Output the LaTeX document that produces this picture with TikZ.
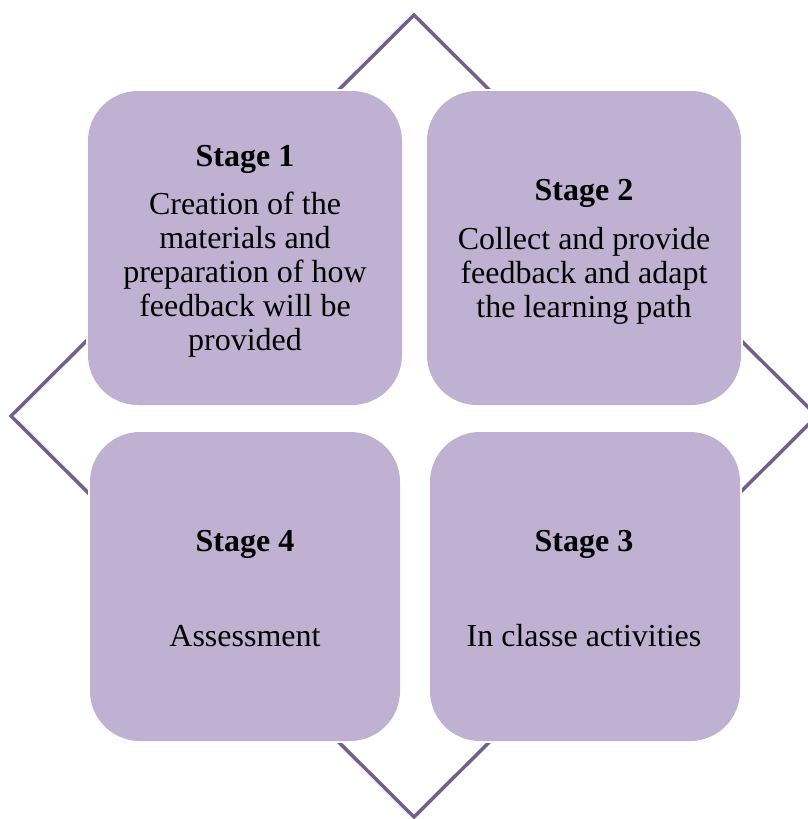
\documentclass[tikz,border=0pt]{standalone}
\usepackage{fontspec}
\setmainfont{Liberation Serif}
\usetikzlibrary{backgrounds}
\definecolor{framepurple}{RGB}{116,95,140}
\definecolor{tilefill}{RGB}{192,176,210}
\tikzset{
  tile/.style={fill=tilefill, draw=none, rounded corners=50pt, inner sep=0pt},
  ring/.style={draw=framepurple, line width=3.5pt, line join=miter},
  title/.style={font=\fontsize{32}{34}\selectfont\bfseries, anchor=base, inner sep=0pt},
  body/.style={font=\fontsize{32}{34}\selectfont, anchor=base, inner sep=0pt},
}
\begin{document}
\begin{tikzpicture}[x=1pt,y=-1pt]
  \useasboundingbox (0,0) rectangle (808,819);
  \clip (0,0) rectangle (808,819);

  % the four stage tiles
  \node[tile, minimum width=314pt, minimum height=314pt] (s1) at (245,248) {};
  \node[tile, minimum width=314pt, minimum height=314pt] (s2) at (584,248) {};
  \node[tile, minimum width=310pt, minimum height=309pt] (s4) at (245,586.5) {};
  \node[tile, minimum width=310pt, minimum height=309pt] (s3) at (585,586.5) {};

  % diamond frame behind the tiles, hidden where a tile sits
  \coordinate (dtop) at (414,15);
  \coordinate (dright) at (817,416);
  \coordinate (dbottom) at (414,817);
  \coordinate (dleft) at (11,416);
  \begin{pgfonlayer}{background}
    \draw[ring] (dtop) -- (dright) -- (dbottom) -- (dleft) -- cycle;
    \foreach \t in {s1,s2,s3,s4}
      \fill[white] ([shift={(-2pt,-2pt)}]\t.south west) rectangle ([shift={(2pt,2pt)}]\t.north east);
  \end{pgfonlayer}

  % texts
  \node[title] (s1t) at (245,166) {Stage 1};
  \node[body] (s1b) at (245,214) {\begin{tabular}[t]{@{}c@{}}Creation of the\\materials and\\preparation of how\\feedback will be\\provided\end{tabular}};

  \node[title] (s2t) at (584,200) {Stage 2};
  \node[body] (s2b) at (584,249) {\begin{tabular}[t]{@{}c@{}}Collect and provide\\feedback and adapt\\the learning path\end{tabular}};

  \node[title] (s4t) at (245,551) {Stage 4};
  \node[body] (s4b) at (245,646) {Assessment};

  \node[title] (s3t) at (584,551) {Stage 3};
  \node[body] (s3b) at (584,646) {In classe activities};
\end{tikzpicture}
\end{document}
